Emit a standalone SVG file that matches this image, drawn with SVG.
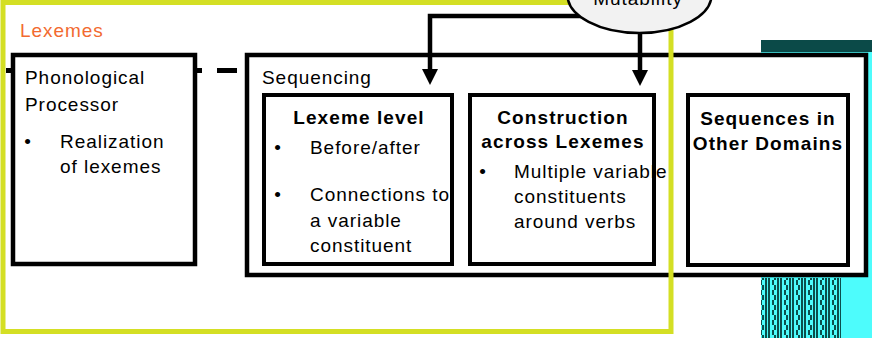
<svg xmlns="http://www.w3.org/2000/svg" width="872" height="338" viewBox="0 0 872 338">
<style>
text{font-family:"Liberation Sans",Arial,sans-serif;font-size:19px;fill:#000;letter-spacing:0.95px}
.b{font-weight:bold;letter-spacing:1.1px}
.m{text-anchor:middle}
.box{fill:#fff;stroke:#000;stroke-width:4.5}
.inner{fill:#fff;stroke:#000;stroke-width:4}
.conn{fill:none;stroke:#000;stroke-width:4.5}
.dash{stroke:#000;stroke-width:5}
</style>
<defs>
<marker id="ah" markerUnits="userSpaceOnUse" markerWidth="16" markerHeight="16" refX="0" refY="8" orient="auto">
<path d="M0,0 L16,8 L0,16 Z" fill="#000"/>
</marker>
<pattern id="px" width="12" height="10" patternUnits="userSpaceOnUse">
<rect width="12" height="10" fill="#4dfcfc"/>
<rect x="0" y="0" width="2" height="10" fill="#0b4f4c"/>
<rect x="4" y="0" width="2" height="5" fill="#0b4f4c"/>
<rect x="6" y="5" width="2" height="5" fill="#0b4f4c"/>
<rect x="9" y="0" width="2" height="10" fill="#0b4f4c"/>
</pattern>
</defs>
<g id="artifact">
<rect x="761" y="40" width="111" height="298" fill="#4dfcfc"/>
<rect x="761" y="40" width="111" height="12" fill="#0b4a48"/>
<rect x="761" y="278" width="80" height="60" fill="url(#px)"/>
</g>
<g id="phonological">
<rect class="box" x="13" y="55" width="182" height="209"/>
<text x="25" y="84">Phonological</text>
<text x="25" y="111">Processor</text>
<text class="m" x="28" y="148">•</text>
<text x="60" y="148">Realization</text>
<text x="60" y="173">of lexemes</text>
</g>
<g id="sequencing">
<rect class="box" x="247" y="55" width="619" height="220" stroke-width="5"/>
<text x="262" y="84">Sequencing</text>
</g>
<g id="lexeme-level">
<rect class="inner" x="264" y="95" width="188" height="169"/>
<text class="b m" x="359" y="124">Lexeme level</text>
<text class="m" x="278" y="154">•</text>
<text x="310" y="154">Before/after</text>
<text class="m" x="278" y="201">•</text>
<text x="310" y="201">Connections to</text>
<text x="310" y="226.5">a variable</text>
<text x="310" y="252">constituent</text>
</g>
<g id="construction">
<rect class="inner" x="470" y="95" width="184" height="169"/>
<text class="b m" x="563" y="123.5">Construction</text>
<text class="b m" x="563" y="148">across Lexemes</text>
<text class="m" x="483" y="178">•</text>
<text x="514" y="178">Multiple variable</text>
<text x="514" y="203">constituents</text>
<text x="514" y="228">around verbs</text>
</g>
<g id="other-domains">
<rect class="inner" x="688" y="95" width="160" height="170"/>
<text class="b m" x="768" y="125">Sequences in</text>
<text class="b m" x="768" y="150">Other Domains</text>
</g>
<g id="lexemes">
<rect x="3" y="2.5" width="668" height="329" fill="none" stroke="#d4df24" stroke-width="5"/>
<text x="20" y="37" style="fill:#f26a30">Lexemes</text>
</g>
<g id="connectors">
<line class="dash" x1="6" y1="70.5" x2="11" y2="70.5"/>
<line class="dash" x1="197" y1="70.5" x2="245" y2="70.5" stroke-dasharray="5 15 20 30"/>
<path class="conn" d="M582,16 H430 V69" marker-end="url(#ah)"/>
<path class="conn" d="M640,30 V70" marker-end="url(#ah)"/>
</g>
<g id="mutability">
<ellipse cx="639.5" cy="-5" rx="72" ry="38" fill="#f2f2f2" stroke="#000" stroke-width="2.5"/>
<text class="m" x="638" y="5">Mutability</text>
</g>
</svg>
